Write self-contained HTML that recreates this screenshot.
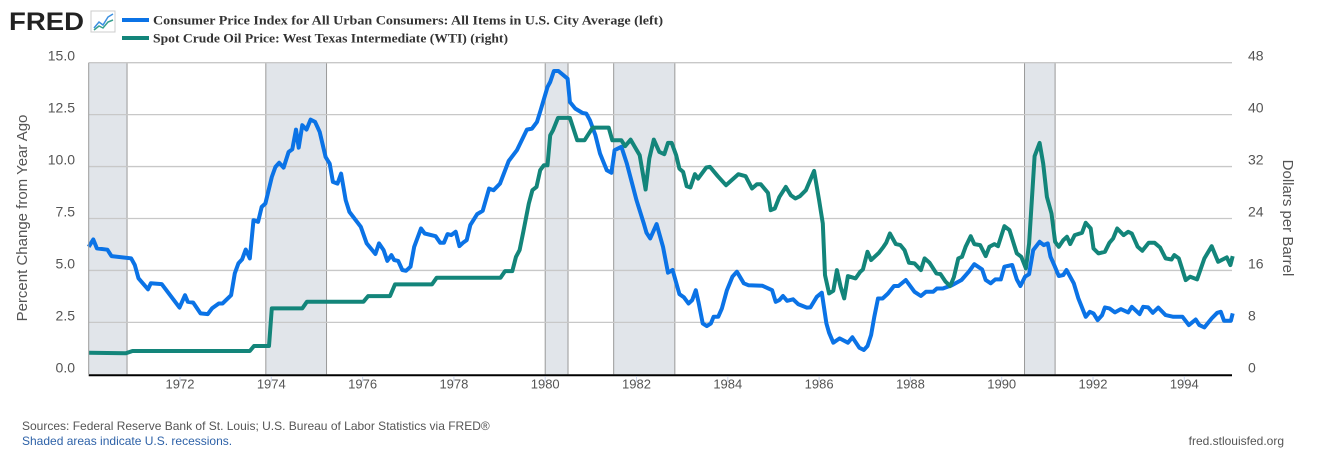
<!DOCTYPE html>
<html><head><meta charset="utf-8"><style>
html,body{margin:0;padding:0;background:#fff;}
svg{display:block;font-family:"Liberation Sans",sans-serif;}
</style></head><body>
<svg id="chart" width="1320" height="450" viewBox="0 0 1320 450">
  <g>
    <text x="9" y="30" font-size="25" font-weight="bold" fill="#222" textLength="75" lengthAdjust="spacingAndGlyphs">FRED</text>
    <rect x="91" y="11" width="24" height="21" fill="#fff" stroke="#ccc"/>
    <polyline points="94,28 99,22 103,25 108,17 113,14" fill="none" stroke="#3b8fe0" stroke-width="1.5"/>
    <polyline points="94,30 99,26 103,28 108,22 113,20" fill="none" stroke="#37a08e" stroke-width="1.5"/>
  </g>
  <g>
    <g>
      <rect x="122" y="18" width="27" height="4" fill="#0b73e6"/>
      <text x="153" y="24.5" font-family="Liberation Serif,serif" font-weight="bold" font-size="13" fill="#333" textLength="510" lengthAdjust="spacingAndGlyphs">Consumer Price Index for All Urban Consumers: All Items in U.S. City Average (left)</text>
    </g>
    <g>
      <rect x="122" y="36" width="27" height="4" fill="#13857a"/>
      <text x="153" y="42.5" font-family="Liberation Serif,serif" font-weight="bold" font-size="13" fill="#333" textLength="355" lengthAdjust="spacingAndGlyphs">Spot Crude Oil Price: West Texas Intermediate (WTI) (right)</text>
    </g>
  </g>
  <g id="recessions"></g>
  <g id="grid"></g>
  <g id="series"></g>
  <g id="axes"></g>
  <text transform="translate(27,218) rotate(-90)" text-anchor="middle" font-size="15" fill="#555">Percent Change from Year Ago</text>
  <text transform="translate(1283,218) rotate(90)" text-anchor="middle" font-size="15" fill="#555">Dollars per Barrel</text>
  <text x="22" y="430" font-size="12" fill="#555">Sources: Federal Reserve Bank of St. Louis; U.S. Bureau of Labor Statistics via FRED®</text>
  <text x="22" y="445" font-size="12" fill="#2e62a8">Shaded areas indicate U.S. recessions.</text>
  <text x="1284" y="445" text-anchor="end" font-size="12" fill="#555">fred.stlouisfed.org</text>
</svg>
<script>
const cpiDates=[1970.00,1970.10,1970.18,1970.41,1970.50,1970.93,1971.01,1971.09,1971.30,1971.36,1971.60,1971.99,1972.11,1972.17,1972.29,1972.45,1972.61,1972.70,1972.85,1972.93,1973.12,1973.20,1973.28,1973.36,1973.44,1973.53,1973.61,1973.71,1973.79,1973.87,1974.01,1974.09,1974.17,1974.27,1974.38,1974.46,1974.54,1974.60,1974.68,1974.77,1974.86,1974.96,1975.06,1975.19,1975.28,1975.35,1975.45,1975.53,1975.63,1975.71,1975.96,1976.09,1976.28,1976.36,1976.46,1976.54,1976.63,1976.69,1976.78,1976.87,1976.95,1977.05,1977.13,1977.28,1977.36,1977.60,1977.70,1977.78,1977.86,1977.94,1978.04,1978.12,1978.20,1978.28,1978.36,1978.51,1978.63,1978.77,1978.87,1979.01,1979.20,1979.38,1979.60,1979.71,1979.82,1979.90,1980.05,1980.11,1980.19,1980.29,1980.49,1980.54,1980.66,1980.82,1980.90,1980.98,1981.10,1981.20,1981.35,1981.45,1981.52,1981.67,1981.79,1982.00,1982.16,1982.22,1982.30,1982.44,1982.58,1982.69,1982.79,1982.94,1983.04,1983.14,1983.22,1983.30,1983.36,1983.45,1983.54,1983.63,1983.69,1983.79,1983.87,1983.98,1984.10,1984.20,1984.35,1984.45,1984.76,1984.97,1985.05,1985.13,1985.21,1985.30,1985.43,1985.54,1985.73,1985.81,1985.95,1986.06,1986.16,1986.22,1986.31,1986.45,1986.63,1986.73,1986.88,1986.98,1987.06,1987.14,1987.21,1987.29,1987.39,1987.51,1987.64,1987.74,1987.90,1988.09,1988.23,1988.34,1988.50,1988.58,1988.71,1988.91,1989.12,1989.28,1989.40,1989.57,1989.65,1989.76,1989.86,1989.98,1990.06,1990.23,1990.33,1990.41,1990.51,1990.60,1990.69,1990.83,1990.92,1991.01,1991.07,1991.15,1991.25,1991.35,1991.42,1991.58,1991.68,1991.84,1991.93,1992.01,1992.10,1992.20,1992.26,1992.36,1992.48,1992.61,1992.77,1992.85,1993.02,1993.10,1993.21,1993.31,1993.43,1993.59,1993.76,1993.96,1994.10,1994.25,1994.33,1994.44,1994.60,1994.72,1994.80,1994.87,1995.02,1995.06];
const cpiValues=[6.14,6.49,6.06,6.0,5.69,5.58,5.26,4.62,4.09,4.38,4.34,3.21,3.81,3.49,3.45,2.93,2.9,3.17,3.41,3.41,3.81,4.86,5.34,5.53,6.01,5.58,7.42,7.34,8.06,8.22,9.5,9.98,10.18,9.95,10.7,10.83,11.78,10.91,11.99,11.78,12.26,12.15,11.67,10.46,10.14,9.26,9.18,9.66,8.38,7.82,7.1,6.3,5.79,6.3,5.98,5.46,5.74,5.5,5.46,5.02,4.98,5.18,6.14,7.02,6.78,6.65,6.33,6.33,6.75,6.7,6.86,6.17,6.33,6.46,7.18,7.71,7.87,8.94,8.86,9.18,10.27,10.79,11.78,11.83,12.15,12.71,13.83,14.07,14.6,14.6,14.23,13.11,12.79,12.58,12.55,12.23,11.51,10.63,9.82,9.7,10.79,10.95,10.14,8.38,7.26,6.81,6.54,7.23,6.14,4.89,5.02,3.86,3.7,3.41,3.57,4.05,3.45,2.45,2.32,2.45,2.77,2.77,3.17,4.05,4.7,4.94,4.38,4.29,4.26,4.05,3.49,3.57,3.77,3.54,3.61,3.38,3.21,3.22,3.73,3.93,2.45,2.0,1.52,1.73,1.52,1.78,1.28,1.17,1.36,1.89,2.77,3.65,3.65,3.89,4.25,4.25,4.54,3.97,3.77,3.97,3.97,4.13,4.13,4.29,4.54,4.94,5.3,5.05,4.54,4.38,4.57,4.57,5.18,5.26,4.57,4.25,4.7,4.82,5.98,6.38,6.22,6.3,5.66,5.26,4.73,4.78,5.02,4.38,3.65,2.77,3.01,2.93,2.61,2.85,3.22,3.17,2.98,3.14,2.98,3.25,2.9,3.25,3.22,2.96,3.21,2.85,2.77,2.77,2.37,2.64,2.37,2.26,2.69,2.96,3.01,2.58,2.58,2.93];
const oilDates=[1970.00,1970.81,1970.96,1973.53,1973.62,1973.95,1974.01,1974.68,1974.78,1976.02,1976.12,1976.60,1976.71,1977.52,1977.62,1979.02,1979.12,1979.28,1979.36,1979.44,1979.52,1979.64,1979.72,1979.81,1979.89,1979.97,1980.05,1980.11,1980.17,1980.28,1980.54,1980.70,1980.86,1981.04,1981.39,1981.47,1981.67,1981.75,1981.87,1982.07,1982.20,1982.28,1982.38,1982.50,1982.61,1982.69,1982.77,1982.87,1982.94,1983.02,1983.10,1983.18,1983.28,1983.35,1983.53,1983.61,1983.78,1983.96,1984.23,1984.39,1984.53,1984.64,1984.72,1984.88,1984.94,1985.03,1985.13,1985.27,1985.38,1985.48,1985.58,1985.71,1985.89,1986.00,1986.08,1986.13,1986.22,1986.31,1986.39,1986.47,1986.55,1986.63,1986.80,1986.90,1986.96,1987.06,1987.14,1987.31,1987.41,1987.47,1987.55,1987.68,1987.78,1987.87,1987.97,1988.09,1988.23,1988.31,1988.42,1988.57,1988.66,1988.77,1988.87,1988.95,1989.05,1989.13,1989.21,1989.32,1989.40,1989.53,1989.65,1989.73,1989.84,1989.92,1990.06,1990.17,1990.33,1990.43,1990.53,1990.60,1990.72,1990.83,1990.91,1990.99,1991.09,1991.17,1991.25,1991.35,1991.43,1991.50,1991.60,1991.76,1991.84,1991.95,1992.01,1992.12,1992.26,1992.36,1992.44,1992.53,1992.67,1992.77,1992.85,1992.98,1993.08,1993.22,1993.35,1993.47,1993.59,1993.72,1993.78,1993.88,1994.03,1994.13,1994.28,1994.44,1994.60,1994.74,1994.93,1995.01,1995.06];
const oilValues=[3.33,3.23,3.59,3.59,4.36,4.36,10.15,10.15,11.18,11.18,12.05,12.05,13.85,13.85,14.87,14.87,15.9,15.9,18.1,19.13,21.95,26.3,28.36,28.87,31.44,32.2,32.2,36.82,37.59,39.49,39.49,36.05,36.05,38.0,38.0,36.05,36.05,35.13,36.15,33.74,28.46,33.23,36.15,34.26,33.9,35.64,35.64,33.74,31.69,31.18,28.97,28.77,30.82,30.15,31.85,31.95,30.51,29.13,30.82,30.51,28.62,29.28,29.28,27.95,25.28,25.54,27.33,28.87,27.59,27.08,27.44,28.36,31.33,26.82,23.23,15.28,12.46,12.87,16.05,13.49,11.69,15.13,14.77,15.79,16.15,18.87,17.59,18.72,19.64,20.26,21.69,20.05,19.9,19.13,17.18,17.08,16.05,17.85,17.18,15.54,15.44,14.26,13.59,14.92,17.85,18.1,19.64,21.28,20.05,19.9,18.21,19.64,20.05,19.74,22.82,22.21,18.62,18.1,16.31,20.15,33.59,35.64,32.46,27.33,24.77,20.41,19.64,20.67,21.18,20.05,21.44,21.79,23.33,22.46,19.38,18.62,18.87,20.26,20.92,22.46,21.44,21.95,21.69,19.64,19.03,20.26,20.26,19.54,17.85,17.69,18.36,17.85,14.51,15.03,14.62,17.85,19.74,17.33,18.0,16.82,18.21];
const recStarts=[1969.92,1973.88,1980.0,1981.5,1990.5];
const recEnds=[1970.84,1975.21,1980.5,1982.84,1991.17];
const leftTicks=[0,2.5,5,7.5,10,12.5,15];
const leftTickLabels=["0.0","2.5","5.0","7.5","10.0","12.5","15.0"];
const rightTicks=[0,8,16,24,32,40,48];
const yearTicks=[1972,1974,1976,1978,1980,1982,1984,1986,1988,1990,1992,1994];

const NS="http://www.w3.org/2000/svg";
const L=88.7,R=1232,T=62.7,B=374.3,X0=1970,PXY=45.65;
const xs=d=>Math.max(L,Math.min(R+3,L+(d-X0)*PXY));
const yL=v=>B-(v/15)*(B-T);
const yR=v=>B-(v/48)*(B-T);
function mk(tag,attrs,parent){const e=document.createElementNS(NS,tag);for(const k in attrs)e.setAttribute(k,attrs[k]);parent.appendChild(e);return e;}

const rec=document.getElementById('recessions');
recStarts.forEach((s,i)=>{
  const x1=xs(s),x2=xs(recEnds[i]);
  const r=mk('rect',{x:x1,y:T,width:x2-x1,height:B-T,fill:'#e1e5ea'},rec);
  
  
  [x1,x2].forEach(x=>{if(x>L+1){const l=mk('line',{x1:x,x2:x,y1:T,y2:B,stroke:'#999','stroke-width':1},rec);
    
    }});
});

const grid=document.getElementById('grid');
const axes=document.getElementById('axes');
leftTicks.forEach((v,i)=>{
  const y=yL(v);
  if(v>0){const g=mk('line',{x1:L,x2:R,y1:y,y2:y,stroke:'#c8c8c8','stroke-width':1.3},grid);
    
    }
  const t=mk('text',{x:75,y:y-2,'text-anchor':'end','font-size':14,fill:'#555'},axes);
  t.textContent=leftTickLabels[i];
  
  
});
rightTicks.forEach(v=>{
  const t=mk('text',{x:1248,y:yR(v)-2,'font-size':14,fill:'#555'},axes);
  t.textContent=String(v);
  
  
});
const ax=mk('line',{x1:L,x2:R,y1:B+1,y2:B+1,stroke:'#000','stroke-width':2},axes);


const lf=mk('line',{x1:L,x2:L,y1:T,y2:B,stroke:'#999','stroke-width':1},axes);


yearTicks.forEach(yr=>{
  const x=xs(yr);
  const tk=mk('line',{x1:x,x2:x,y1:B+2,y2:B+8,stroke:'#ccd6eb','stroke-width':1},axes);
  
  
  const t=mk('text',{x:x,y:B+14,'text-anchor':'middle','font-size':13,fill:'#555'},axes);
  t.textContent=String(yr);
  
  
});

const ser=document.getElementById('series');
function line(dates,vals,yf,color){
  let d='';dates.forEach((t,i)=>{d+=(i?'L':'M')+xs(t).toFixed(1)+','+yf(vals[i]).toFixed(1);});
  return mk('path',{d:d,fill:'none',stroke:color,'stroke-width':4,'stroke-linejoin':'round','stroke-linecap':'butt'},ser);
}
const p1=line(cpiDates,cpiValues,yL,'#0b73e6');


const p2=line(oilDates,oilValues,yR,'#13857a');


</script>
</body></html>
